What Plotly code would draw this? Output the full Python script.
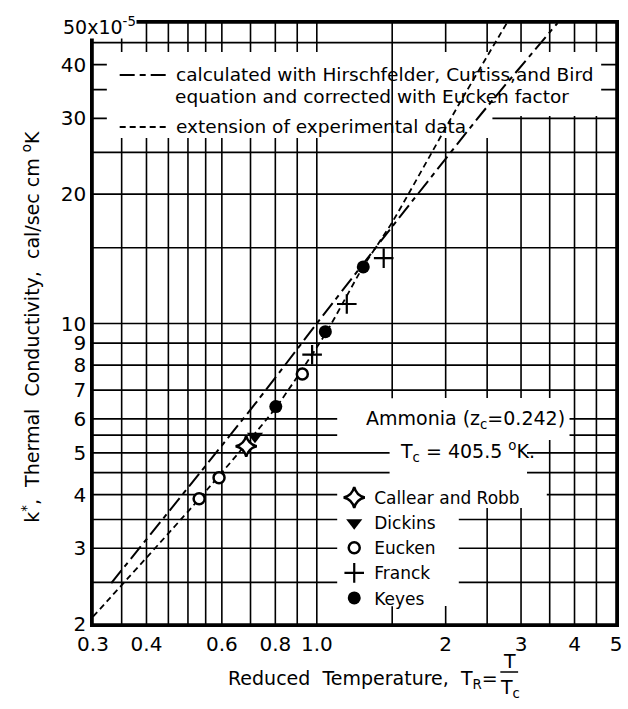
import numpy as np
import plotly.graph_objects as go

# ---------------- data ----------------
calc_x = [0.331, 0.726, 1.0, 1.5, 2.44, 3.65]
calc_y = [2.49, 6.6, 10.0, 16.8, 31.0, 50.0]

ext_x = [0.30, 0.53, 0.80, 1.05, 1.28, 1.5, 2.15, 2.78]
ext_y = [2.08, 3.90, 6.35, 9.5, 13.5, 17.2, 32.4, 50.0]

callear_x = [0.684]
callear_y = [5.18]
dickins_x = [0.717]
dickins_y = [5.47]
eucken_x = [0.531, 0.591, 0.925]
eucken_y = [3.91, 4.38, 7.63]
franck_x = [0.975, 1.175, 1.433]
franck_y = [8.46, 11.1, 14.19]
keyes_x = [0.802, 1.047, 1.284]
keyes_y = [6.41, 9.57, 13.54]

x_tickvals = [0.3, 0.4, 0.6, 0.8, 1.0, 2, 3, 4, 5]
x_ticktext = ["0.3", "0.4", "0.6", "0.8", "1.0", "2", "3", "4", "5"]
x_minor = [0.35, 0.45, 0.5, 0.55, 0.7, 0.9, 2.5, 3.5, 4.5]
y_tickvals = [2, 3, 4, 5, 6, 7, 8, 9, 10, 20, 30, 40, 50]
y_ticktext = ["2", "3", "4", "5", "6", "7", "8", "9", "10", "20", "30", "40", ""]
y_minor = [2.5, 3.5, 4.5, 5.5, 15, 25, 35, 45]

FONT = "DejaVu Sans"
W, H = 628, 709
L, R, T, B = 93, 6, 23, 85
PW, PH = W - L - R, H - T - B


def PX(p):
    return (p - L) / PW


def PY(p):
    return (H - B - p) / PH


fig = go.Figure()

fig.add_trace(go.Scatter(x=calc_x, y=calc_y, mode="lines", showlegend=False,
                         line=dict(color="black", width=2, dash="16px,5px,5px,5px",
                                   shape="spline", smoothing=0.5)))
fig.add_trace(go.Scatter(x=ext_x, y=ext_y, mode="lines", showlegend=False,
                         line=dict(color="black", width=1.8, dash="6px,4px",
                                   shape="spline", smoothing=0.6)))

fig.add_trace(go.Scatter(x=callear_x, y=callear_y, mode="markers", name="Callear and Robb",
                         marker=dict(symbol="star-diamond", size=15, color="white",
                                     line=dict(color="black", width=2.5))))
fig.add_trace(go.Scatter(x=dickins_x, y=dickins_y, mode="markers", name="Dickins",
                         marker=dict(symbol="triangle-down", size=14, color="black")))
fig.add_trace(go.Scatter(x=eucken_x, y=eucken_y, mode="markers", name="Eucken",
                         marker=dict(symbol="circle", size=11, color="white",
                                     line=dict(color="black", width=2.5))))
fig.add_trace(go.Scatter(x=franck_x, y=franck_y, mode="markers", name="Franck",
                         marker=dict(symbol="cross-thin", size=14, color="black",
                                     line=dict(color="black", width=2.2))))
fig.add_trace(go.Scatter(x=keyes_x, y=keyes_y, mode="markers", name="Keyes",
                         marker=dict(symbol="circle", size=13, color="black")))

GRID = dict(color="black", width=1.6)
shapes = []
# grid lines built from the tick lists (shapes on log axes take data values)
for v in x_tickvals + x_minor:
    shapes.append(dict(type="line", xref="x", yref="paper", x0=v, x1=v,
                       y0=0, y1=1, layer="below", line=GRID))
for v in y_tickvals + y_minor:
    shapes.append(dict(type="line", xref="paper", yref="y", x0=0, x1=1,
                       y0=v, y1=v, layer="below", line=GRID))
# partial 1.5 grid line
for ya, yb in [(2, 2.2), (6.7, 50)]:
    shapes.append(dict(type="line", xref="x", yref="y", x0=1.5, x1=1.5,
                       y0=ya, y1=yb, layer="below", line=GRID))
# white areas behind the texts
boxes = [(107, 607, 52, 116), (107, 497, 116, 138),
         (340, 575, 398, 440), (393, 532, 440, 480),
         (340, 552, 480, 508), (340, 463, 508, 606)]
for x0, x1, y0, y1 in boxes:
    shapes.append(dict(type="rect", xref="paper", yref="paper", x0=PX(x0), x1=PX(x1),
                       y0=PY(y1), y1=PY(y0), fillcolor="white", line=dict(width=0),
                       layer="below"))
# legend line samples
shapes.append(dict(type="line", xref="paper", yref="paper", x0=PX(120), x1=PX(167),
                   y0=PY(75), y1=PY(75), line=dict(color="black", width=2.2,
                                                   dash="15px,5px,6px,5px")))
shapes.append(dict(type="line", xref="paper", yref="paper", x0=PX(120), x1=PX(167),
                   y0=PY(127), y1=PY(127), line=dict(color="black", width=1.8,
                                                    dash="6px,4px")))
# fraction bar
shapes.append(dict(type="line", xref="paper", yref="paper", x0=PX(505), x1=PX(523),
                   y0=PY(672), y1=PY(672), line=dict(color="black", width=1.5)))

ann = []


def text(s, x, y, size=17, xanchor="left", angle=0, bg=None):
    d = dict(text=s, xref="paper", yref="paper", x=PX(x), y=PY(y), xanchor=xanchor,
             yanchor="middle", showarrow=False, textangle=angle,
             font=dict(family=FONT, size=size, color="black"), borderpad=0)
    if bg:
        d["bgcolor"] = bg
    ann.append(d)


text("calculated with Hirschfelder, Curtiss,and Bird", 176, 74, 18.5)
text("equation and corrected with Eucken factor", 175, 96, 18.5)
text("extension of experimental data", 176, 127, 18.5)
text("Ammonia (z<sub>c</sub>=0.242)", 368, 419, 19)
text("T<sub>c</sub> = 405.5 <sup>o</sup>K.", 403, 451, 19)
text("50x10<sup>-5</sup>", 62, 26, 19, bg="white")
text("k<sup>*</sup>,  Thermal  Conductivity,  cal/sec cm <sup>o</sup>K", 30, 327, 19,
     xanchor="center", angle=-90)
text("Reduced  Temperature,  T<sub>R</sub>=", 504, 679, 19, xanchor="right")
text("T", 514, 661, 19, xanchor="center")
text("T<sub>c</sub>", 515, 689, 19, xanchor="center")

axis_common = dict(type="log", showgrid=False,
                   showline=True, linecolor="black", linewidth=2.5, mirror=True,
                   ticks="", zeroline=False,
                   tickfont=dict(family=FONT, size=20, color="black"))

fig.update_layout(
    width=W, height=H,
    margin=dict(l=L, r=R, t=T, b=B),
    paper_bgcolor="white", plot_bgcolor="white",
    xaxis=dict(range=[np.log10(0.3), np.log10(5)], tickvals=x_tickvals, ticktext=x_ticktext,
               **axis_common),
    yaxis=dict(range=[np.log10(2), np.log10(50)], tickvals=y_tickvals, ticktext=y_ticktext,
               **axis_common),
    legend=dict(x=PX(337), y=PY(480), xanchor="left", yanchor="top",
                bgcolor="rgba(0,0,0,0)", font=dict(family=FONT, size=17, color="black"),
                itemwidth=30),
    shapes=shapes,
    annotations=ann,
)

fig.write_html("out.html")
